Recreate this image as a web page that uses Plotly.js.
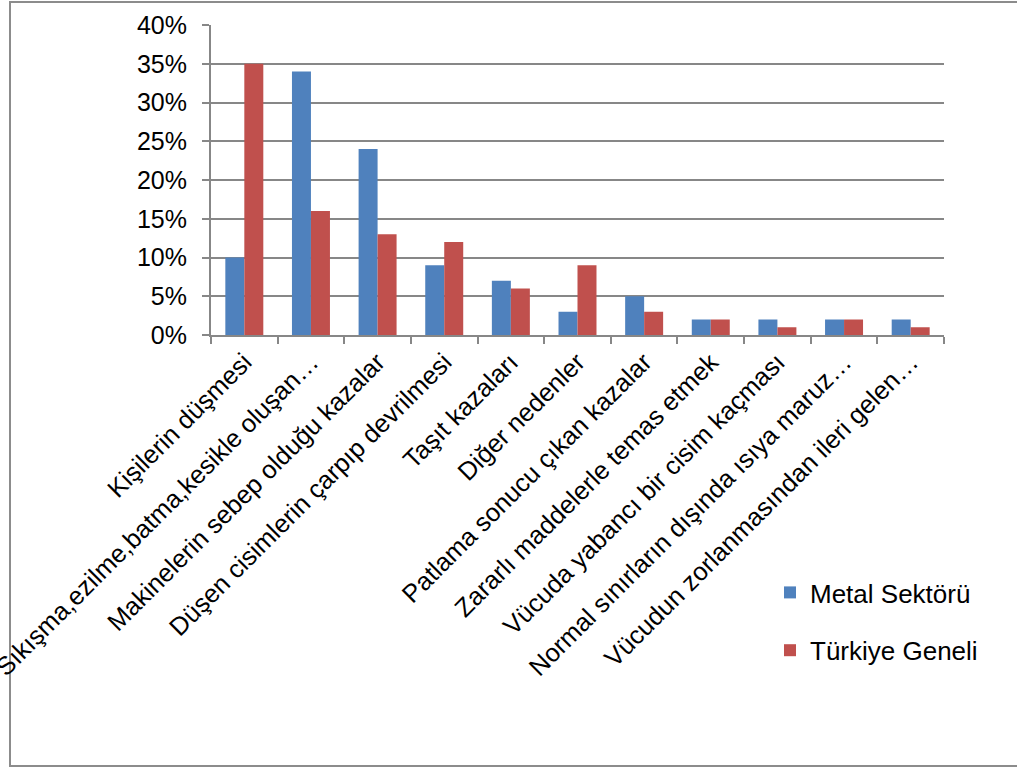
<!DOCTYPE html>
<html>
<head>
<meta charset="utf-8">
<script src="https://cdn.plot.ly/plotly-3.0.1.min.js"></script>
<style>
html,body{margin:0;padding:0;background:#fff;}
#chart{width:1017px;height:769px;}
</style>
</head>
<body>
<div id="chart"></div>
<script>
const categories = [
  "Kişilerin düşmesi",
  "Sıkışma,ezilme,batma,kesikle oluşan…",
  "Makinelerin sebep olduğu kazalar",
  "Düşen cisimlerin çarpıp devrilmesi",
  "Taşıt kazaları",
  "Diğer nedenler",
  "Patlama sonucu çıkan kazalar",
  "Zararlı maddelerle temas etmek",
  "Vücuda yabancı bir cisim kaçması",
  "Normal sınırların dışında ısıya maruz…",
  "Vücudun zorlanmasından ileri gelen…"
];
const metalSektoru = [0.10, 0.34, 0.24, 0.09, 0.07, 0.03, 0.05, 0.02, 0.02, 0.02, 0.02];
const turkiyeGeneli = [0.35, 0.16, 0.13, 0.12, 0.06, 0.09, 0.03, 0.02, 0.01, 0.02, 0.01];
const seriesNames = ["Metal Sektörü", "Türkiye Geneli"];

const FONT = "Liberation Sans, Arial, sans-serif";
const GRID = "#878787";

const traces = [
  {type: "bar", name: seriesNames[0], x: categories, y: metalSektoru,
   marker: {color: "#4F81BD"}, legendgroup: "a"},
  {type: "bar", name: seriesNames[1], x: categories, y: turkiyeGeneli,
   marker: {color: "#C0504D"}, legendgroup: "b"}
];

const L = 211, R = 944, T = 25, B = 335;
const W = 1017, H = 769;
const pw = R - L, ph = B - T;
function px(x){ return (x - L) / pw; }
function py(y){ return (B - y) / ph; }

const layout = {
  width: W, height: H,
  margin: {l: L, r: W - R, t: T, b: H - B, pad: 0},
  paper_bgcolor: "#fff", plot_bgcolor: "#fff",
  font: {family: FONT, size: 24, color: "#000"},
  barmode: "group", bargap: 0.43, bargroupgap: 0,
  showlegend: true,
  legend: {
    x: px(770), y: py(569), xanchor: "left", yanchor: "top",
    font: {family: FONT, size: 26, color: "#000"},
    traceorder: "grouped", tracegroupgap: 21,
    bgcolor: "rgba(0,0,0,0)", itemwidth: 30
  },
  xaxis: {
    type: "category", tickangle: -45, tickson: "boundaries",
    ticks: "outside", ticklen: 7, tickcolor: GRID, tickwidth: 2,
    showline: true, linecolor: GRID, linewidth: 2,
    showgrid: false, automargin: false,
    tickfont: {family: FONT, size: 25.5, color: "#000"}
  },
  yaxis: {
    range: [0, 0.4], dtick: 0.05, tickformat: ".0%",
    ticks: "outside", ticklen: 7, tickcolor: GRID, tickwidth: 2,
    showline: true, linecolor: GRID, linewidth: 2,
    showgrid: true, gridcolor: GRID, gridwidth: 2,
    zeroline: false, automargin: false, ticklabelstandoff: 10,
    tickfont: {family: FONT, size: 25, color: "#000"}
  },
  shapes: [{
    type: "rect", xref: "paper", yref: "paper",
    x0: px(10), x1: px(1030), y0: py(766), y1: py(2),
    line: {color: "#8c8c8c", width: 2}, fillcolor: "rgba(0,0,0,0)", layer: "below"
  }]
};

Plotly.newPlot("chart", traces, layout, {displayModeBar: false, staticPlot: true});
</script>
</body>
</html>
